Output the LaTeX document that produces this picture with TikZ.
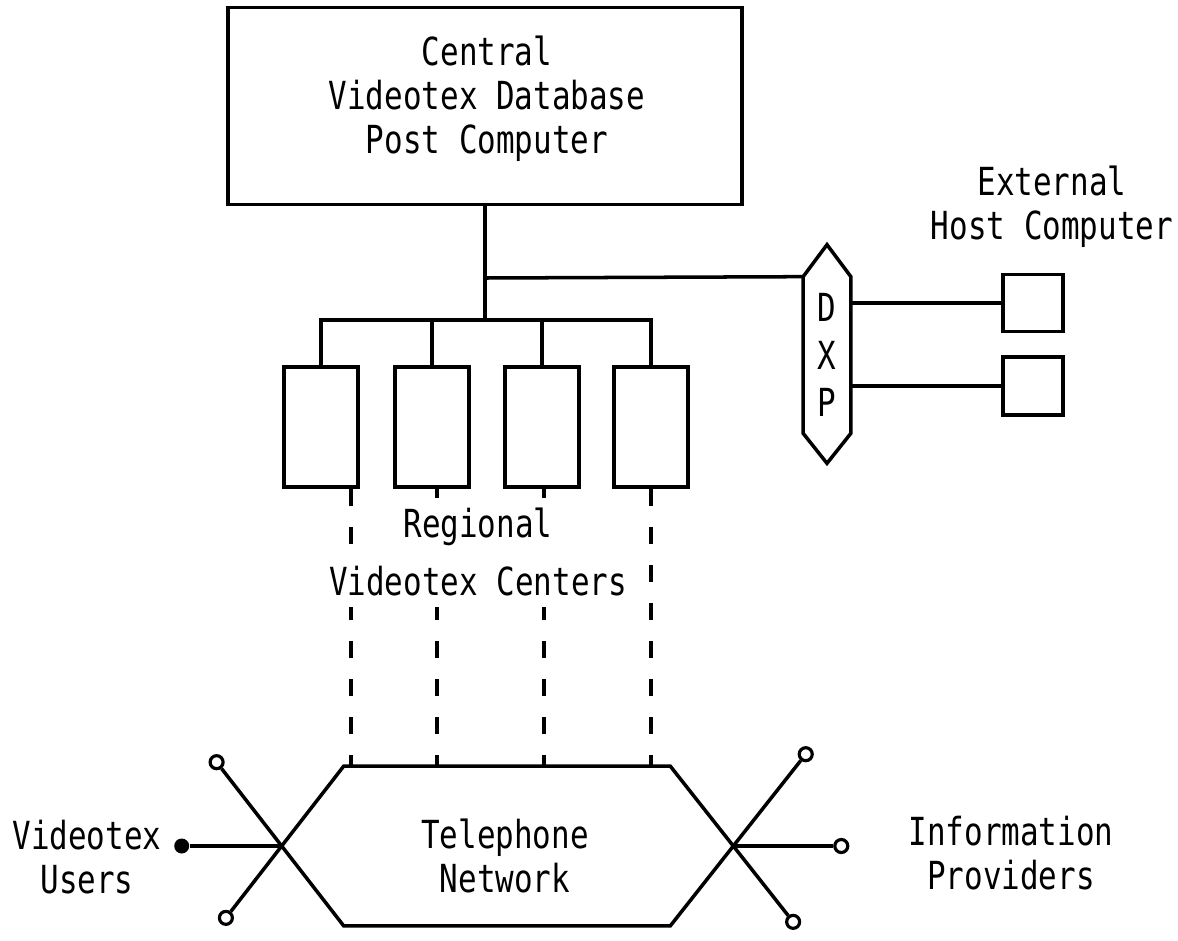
\documentclass[tikz,border=0pt]{standalone}
\usepackage{fontspec}
\newfontfamily\printfont[FakeStretch=0.8]{DejaVu Sans Mono}
\usetikzlibrary{calc}

\tikzset{
  wire/.style={line width=2pt},
  box/.style={draw, line width=2.1pt, inner sep=0pt},
  txt/.style={font=\printfont\fontsize{22}{25}\selectfont, align=center, inner sep=1pt},
  port/.style={circle, draw, line width=1.8pt, fill=white, inner sep=0pt, minimum size=0.26cm},
  user/.style={circle, fill=black, inner sep=0pt, minimum size=0.3cm},
  trunk/.style={line width=2pt, dash pattern=on 0.34cm off 0.42cm},
}

\begin{document}
\begin{tikzpicture}[x=0.02cm, y=-0.02cm]
  \useasboundingbox (0,0) rectangle (1178,941);

  % central database
  \node[box, minimum width=10.28cm, minimum height=3.94cm] (central) at (485,106) {};
  \node[txt] (centraltxt) at (487,99) {Central\\Videotex Database\\Post Computer};

  \coordinate (tap) at (central.south |- 0,278);
  \coordinate (split) at (central.south |- 0,320);
  \draw[wire] (central.south) -- (split);

  % regional centers
  \foreach \n/\x in {1/321, 2/432, 3/542, 4/651}
    \node[box, minimum width=1.48cm, minimum height=2.4cm] (rc\n) at (\x,427) {};

  \draw[wire] (rc1.north) |- (split) -| (rc4.north);
  \draw[wire] (rc2.north) -- (rc2.north |- split);
  \draw[wire] (rc3.north) -- (rc3.north |- split);

  % DXP
  \node[txt, font=\printfont\fontsize{22}{27}\selectfont, minimum width=0.94cm, minimum height=3.12cm] (dxp) at (827,355) {D\\X\\P};
  \draw[wire] (dxp.north west) -- ([yshift=0.64cm]dxp.north) -- (dxp.north east)
    -- (dxp.south east) -- ([yshift=-0.6cm]dxp.south) -- (dxp.south west) -- cycle;
  \draw[wire] (tap) -- (dxp.north west);

  % host computers
  \node[box, minimum width=1.2cm, minimum height=1.14cm] (host1) at (1033,303) {};
  \node[box, minimum width=1.2cm, minimum height=1.16cm] (host2) at (1033,386) {};
  \draw[wire] (dxp.east |- host1.west) -- (host1.west);
  \draw[wire] (dxp.east |- host2.west) -- (host2.west);
  \node[txt] (hosttxt) at (1052,207) {External\\Host Computer};

  % telephone network
  \node[minimum width=6.52cm, minimum height=3.18cm, inner sep=0pt] (tel) at (507,846) {};
  \node[txt] (teltxt) at (505,856) {Telephone\\Network};
  \coordinate (xl) at ([xshift=-1.24cm]tel.west);
  \coordinate (xr) at ([xshift=1.26cm]tel.east);

  \node[port] (ulup) at ($(tel.south west)!2.05!(xl)$) {};
  \node[port] (uldown) at ($(tel.north west)!1.9!(xl)$) {};
  \node[user] (ulmid) at ([xshift=-2cm]xl) {};
  \node[port] (ipup) at ($(tel.south east)!2.15!(xr)$) {};
  \node[port] (ipdown) at ($(tel.north east)!1.95!(xr)$) {};
  \node[port] (ipmid) at ([xshift=2.16cm]xr) {};

  \draw[wire] (ulup) -- (tel.south west) -- (tel.south east) -- (ipup);
  \draw[wire] (uldown) -- (tel.north west) -- (tel.north east) -- (ipdown);
  \draw[wire] (ulmid) -- (xl);
  \draw[wire] (xr) -- (ipmid);

  % trunk lines
  \foreach \n/\dx in {1/30, 2/5, 3/2, 4/0} {
    \coordinate (d\n) at ($(rc\n.south)+(\dx,0)$);
    \draw[trunk] (d\n) -- (d\n |- tel.north);
  }

  \node[txt, fill=white, inner ysep=6pt] (regtxt1) at (478,527) {Regional};
  \node[txt, fill=white, inner ysep=6pt] (regtxt2) at (478,581) {Videotex Centers};

  \node[txt] (users) at (87,857) {Videotex\\Users};
  \node[txt] (providers) at (1011,853) {Information\\Providers};
\end{tikzpicture}
\end{document}
